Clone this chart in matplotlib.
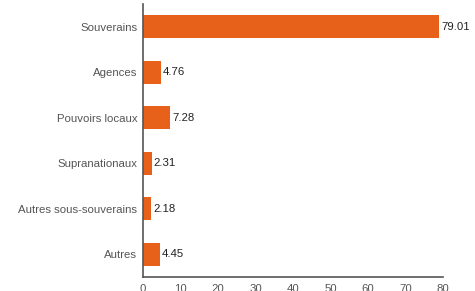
import matplotlib
matplotlib.use('Agg')
import matplotlib.pyplot as plt

plt.rcParams['font.family'] = ['Liberation Sans', 'DejaVu Sans']

categories = ['Souverains', 'Agences', 'Pouvoirs locaux', 'Supranationaux',
              'Autres sous-souverains', 'Autres']
values = [79.01, 4.76, 7.28, 2.31, 2.18, 4.45]
xticks = [0, 10, 20, 30, 40, 50, 60, 70, 80]

fig = plt.figure(figsize=(4.75, 2.91), dpi=100)
ax = fig.add_axes([143 / 475, 14 / 291, 300 / 475, 273 / 291])

y = list(range(len(categories)))
ax.barh(y, values, height=0.51, color='#E8611A')
for yi, v in zip(y, values):
    ax.text(v + 0.5, yi, f'{v:.2f}', va='center', ha='left',
            fontsize=8.2, color='#222222')

ax.set_ylim(len(categories) - 0.5, -0.5)
ax.set_xlim(0, 80)
ax.set_yticks(y)
ax.set_yticklabels(categories)
ax.set_xticks(xticks)
ax.tick_params(length=0, labelsize=8.2, labelcolor='#555555')
ax.tick_params(axis='y', pad=4)
ax.tick_params(axis='x', pad=5)

for s in ['top', 'right']:
    ax.spines[s].set_visible(False)
for s in ['left', 'bottom']:
    ax.spines[s].set_color('#555555')
    ax.spines[s].set_linewidth(1.2)

fig.savefig('out.png', dpi=100)
